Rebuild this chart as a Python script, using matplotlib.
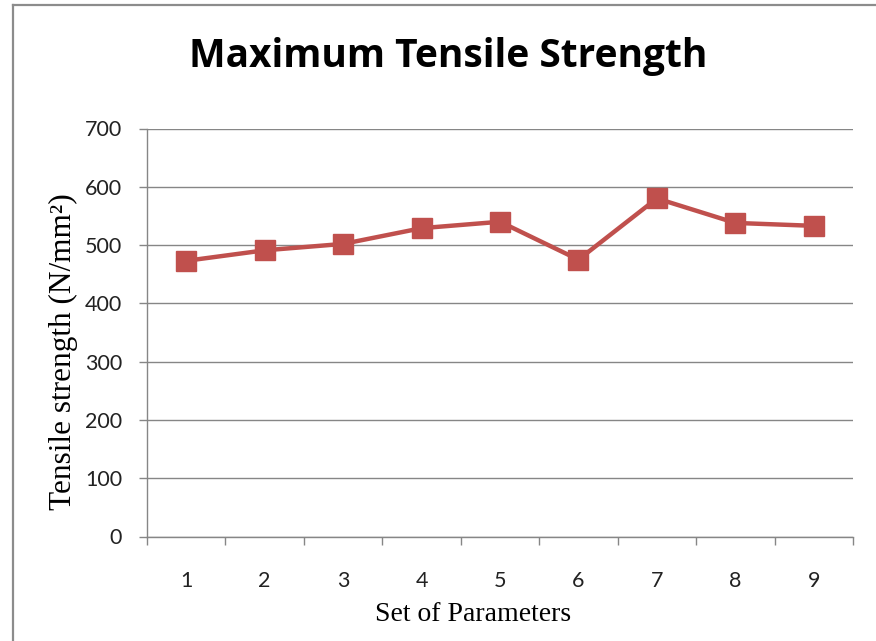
import matplotlib

matplotlib.use("Agg")

import matplotlib.pyplot as plt
from matplotlib.lines import Line2D

# data
categories = ["1", "2", "3", "4", "5", "6", "7", "8", "9"]
tensile_strength = [473, 491, 502, 529, 540, 475, 580, 538, 533]
y_ticks = [0, 100, 200, 300, 400, 500, 600, 700]

LINE_COLOUR = "#C0504D"
AXIS_GREY = "#868686"


def main() -> None:
    fig = plt.figure(figsize=(8.76, 6.41), dpi=100)
    ax = fig.add_axes([147 / 876, 1 - 536.5 / 641, 706 / 876, 408 / 641])

    positions = list(range(len(categories)))
    ax.plot(
        positions,
        tensile_strength,
        color=LINE_COLOUR,
        linewidth=3.2,
        marker="s",
        markersize=14,
        markerfacecolor=LINE_COLOUR,
        markeredgecolor=LINE_COLOUR,
        zorder=3,
        clip_on=False,
    )

    ax.set_xlim(-0.5, len(categories) - 0.5)
    ax.set_ylim(0, 700)
    ax.set_yticks(y_ticks)
    ax.set_yticklabels([str(v) for v in y_ticks], fontsize=15.5, family="Lato", color="#222222")
    ax.set_xticks(positions)
    ax.set_xticklabels(categories, fontsize=15.5, family="Lato", color="#222222")
    ax.set_xticks([p - 0.5 for p in positions] + [len(categories) - 0.5], minor=True)

    ax.tick_params(axis="x", which="major", length=0, pad=25)
    ax.tick_params(axis="x", which="minor", length=6, width=1, color=AXIS_GREY, direction="out")
    ax.tick_params(axis="y", length=6, width=1, color=AXIS_GREY, direction="out", pad=12)

    ax.grid(axis="y", color=AXIS_GREY, linewidth=1)
    ax.set_axisbelow(True)
    for side in ("top", "right"):
        ax.spines[side].set_visible(False)
    for side in ("left", "bottom"):
        ax.spines[side].set_color(AXIS_GREY)
        ax.spines[side].set_linewidth(1)

    ax.set_ylabel("Tensile strength (N/mm²)", fontsize=22.5, family="Liberation Serif", labelpad=5)
    ax.set_xlabel("Set of Parameters", fontsize=20, family="Liberation Serif", labelpad=8)
    ax.yaxis.label.set_y(0.452)
    ax.xaxis.label.set_x(0.462)

    fig.text(
        0.5115,
        1 - 57 / 641,
        "Maximum Tensile Strength",
        ha="center",
        va="center",
        fontsize=28,
        fontweight="bold",
        family="Open Sans",
    )

    # chart frame: only the left and top edges are visible in the crop
    fig.add_artist(Line2D([12.5 / 876, 12.5 / 876], [0, 1 - 5 / 641], color="#8c8c8c", linewidth=1.6))
    fig.add_artist(Line2D([12.5 / 876, 1], [1 - 5 / 641, 1 - 5 / 641], color="#8c8c8c", linewidth=1.6))

    fig.savefig("out.png", dpi=100)
    plt.close(fig)


if __name__ == "__main__":
    main()
